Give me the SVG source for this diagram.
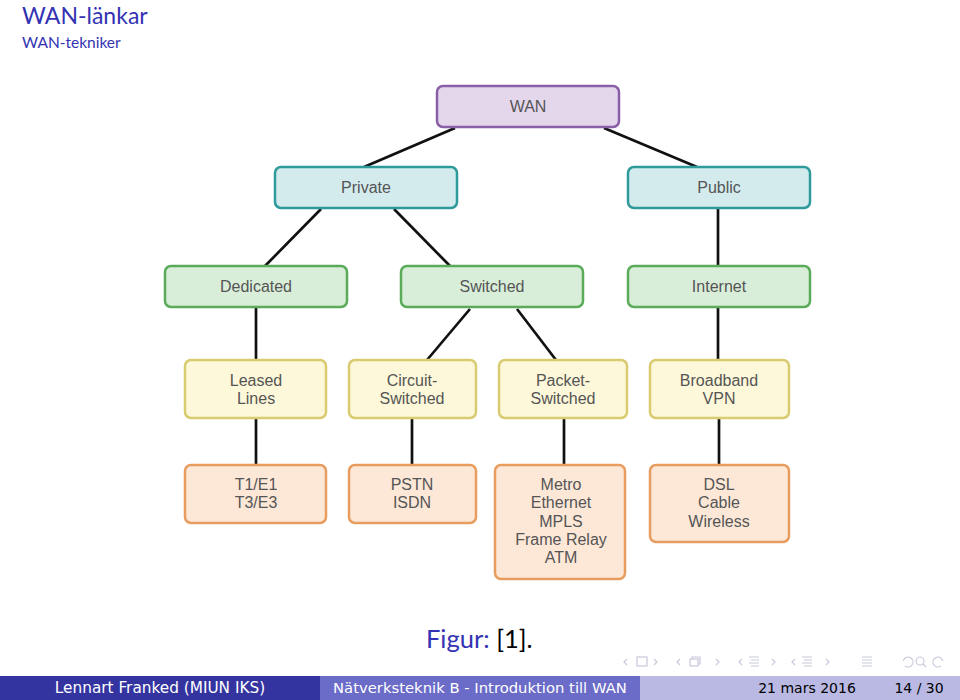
<svg xmlns="http://www.w3.org/2000/svg" width="960" height="700" viewBox="0 0 960 700">
<style>
.n rect{stroke-width:2.5}
.l1 rect{fill:#e4d7ec;stroke:#8a5fa8}
.l2 rect{fill:#d4ebee;stroke:#2e9a9a}
.l3 rect{fill:#d9eed9;stroke:#5aac5a}
.l4 rect{fill:#fdf8d9;stroke:#d9cb70}
.l5 rect{fill:#fde8d8;stroke:#e89d5f}
.n text{font-family:"Liberation Sans",Arial,sans-serif;font-size:16px;fill:#555;text-anchor:middle}
#connectors line{stroke:#111;stroke-width:2.7}
.nav{fill:none;stroke:#c9c9dc;stroke-width:1.2}
.ft{font-family:"DejaVu Sans","Liberation Sans",sans-serif;font-size:15.3px;text-anchor:middle}
</style>
<rect width="960" height="700" fill="#fff"/>
<text x="22" y="24" font-family="Lato,'DejaVu Sans',sans-serif" font-size="23" fill="#3333b3">WAN-länkar</text>
<text x="22" y="48" font-family="Lato,'DejaVu Sans',sans-serif" font-size="15.5" fill="#3333b3">WAN-tekniker</text>
<g id="connectors">
<line x1="455" y1="128" x2="364" y2="167"/>
<line x1="604" y1="128" x2="697" y2="167"/>
<line x1="321" y1="209" x2="265" y2="266"/>
<line x1="394" y1="209" x2="450" y2="266"/>
<line x1="718" y1="208" x2="718" y2="266"/>
<line x1="256" y1="307" x2="256" y2="360"/>
<line x1="470" y1="309" x2="427" y2="360"/>
<line x1="517" y1="309" x2="556" y2="360"/>
<line x1="718" y1="307" x2="718" y2="360"/>
<line x1="256" y1="418" x2="256" y2="465"/>
<line x1="412" y1="418" x2="412" y2="465"/>
<line x1="564" y1="418" x2="564" y2="465"/>
<line x1="719" y1="418" x2="719" y2="465"/>
</g>
<g id="wan" class="n l1"><rect x="437" y="86" width="182" height="41" rx="6"/><text x="528" y="112">WAN</text></g>
<g id="private" class="n l2"><rect x="275" y="167" width="182" height="41" rx="6"/><text x="366" y="193">Private</text></g>
<g id="public" class="n l2"><rect x="628" y="167" width="182" height="41" rx="6"/><text x="719" y="193">Public</text></g>
<g id="dedicated" class="n l3"><rect x="165" y="266" width="182" height="41" rx="6"/><text x="256" y="292">Dedicated</text></g>
<g id="switched" class="n l3"><rect x="401" y="266" width="182" height="41" rx="6"/><text x="492" y="292">Switched</text></g>
<g id="internet" class="n l3"><rect x="628" y="266" width="182" height="41" rx="6"/><text x="719" y="292">Internet</text></g>
<g id="leased" class="n l4"><rect x="185" y="360" width="141" height="58" rx="6"/><text x="256" y="386">Leased</text><text x="256" y="404">Lines</text></g>
<g id="circuit" class="n l4"><rect x="349" y="360" width="127" height="58" rx="6"/><text x="412" y="386">Circuit-</text><text x="412" y="404">Switched</text></g>
<g id="packet" class="n l4"><rect x="499" y="360" width="128" height="58" rx="6"/><text x="563" y="386">Packet-</text><text x="563" y="404">Switched</text></g>
<g id="broadband" class="n l4"><rect x="650" y="360" width="139" height="58" rx="6"/><text x="719" y="386">Broadband</text><text x="719" y="404">VPN</text></g>
<g id="t1" class="n l5"><rect x="185" y="465" width="141" height="58" rx="6"/><text x="256" y="490">T1/E1</text><text x="256" y="508">T3/E3</text></g>
<g id="pstn" class="n l5"><rect x="349" y="465" width="127" height="58" rx="6"/><text x="412" y="490">PSTN</text><text x="412" y="508">ISDN</text></g>
<g id="metro" class="n l5"><rect x="495" y="465" width="130" height="114" rx="6"/><text x="561" y="490">Metro</text><text x="561" y="508">Ethernet</text><text x="561" y="527">MPLS</text><text x="561" y="545">Frame Relay</text><text x="561" y="563">ATM</text></g>
<g id="dsl" class="n l5"><rect x="650" y="465" width="139" height="77" rx="6"/><text x="719" y="490">DSL</text><text x="719" y="508">Cable</text><text x="719" y="527">Wireless</text></g>
<text x="426" y="648" font-family="Lato,'DejaVu Sans',sans-serif" font-size="25.5"><tspan fill="#3333b3">Figur:</tspan><tspan fill="#000"> [1].</tspan></text>
<g id="nav">
<path class="nav" d="M627 659l-3 3 3 3"/><rect class="nav" x="637" y="657" width="10" height="9"/><path class="nav" d="M654 659l3 3-3 3"/>
<path class="nav" d="M680 659l-3 3 3 3"/><rect class="nav" x="690" y="659" width="8" height="7"/><path class="nav" d="M692 659v-2h8v7h-2"/><path class="nav" d="M716 659l3 3-3 3"/>
<path class="nav" d="M742 659l-3 3 3 3"/><path class="nav" d="M749 657h10M751 660h8M749 663h10M751 666h8"/><path class="nav" d="M772 659l3 3-3 3"/>
<path class="nav" d="M795 659l-3 3 3 3"/><path class="nav" d="M802 657h10M804 660h8M802 663h10M804 666h8"/><path class="nav" d="M826 659l3 3-3 3"/>
<path class="nav" d="M862 657h10M862 660h10M862 663h10M862 666h10"/>
<path class="nav" d="M905 658a5 5 0 1 1 0 8M905 658l-2 3"/><circle class="nav" cx="920" cy="661" r="4"/><path class="nav" d="M923 664l3 3"/><path class="nav" d="M941 658a5 5 0 1 0 0 8M941 658l2 3"/>
</g>
<g id="footer">
<rect x="0" y="676" width="320" height="24" fill="#3434a0"/>
<rect x="320" y="676" width="320" height="24" fill="#6b6bc8"/>
<rect x="640" y="676" width="320" height="24" fill="#b9b9e4"/>
<text class="ft" x="160" y="693" fill="#fff">Lennart Franked  (MIUN IKS)</text>
<text class="ft" x="480" y="693" fill="#fff" style="font-size:14.8px">Nätverksteknik B - Introduktion till WAN</text>
<text class="ft" x="807" y="693" fill="#000" style="font-size:14px">21 mars 2016</text>
<text class="ft" x="919" y="693" fill="#000" style="font-size:14px">14 / 30</text>
</g>
</svg>
